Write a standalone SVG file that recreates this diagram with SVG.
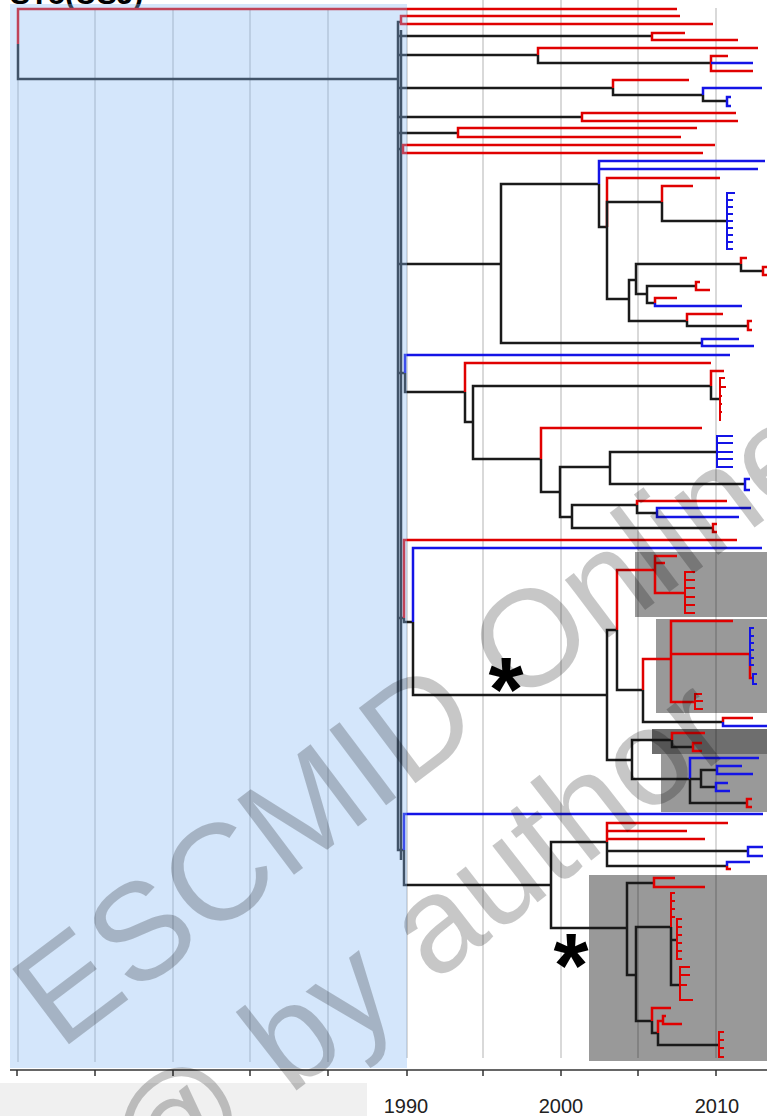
<svg xmlns="http://www.w3.org/2000/svg" width="767" height="1116" viewBox="0 0 767 1116">
<style>
.r{stroke:#e00000}.b{stroke:#1414e6}.k{stroke:#1a1a1a}
#connectors path{fill:none;stroke-width:2.5}
.grid{stroke:#000;stroke-opacity:.3;stroke-width:1}
.box{fill:#999}
.wm{font-family:"Liberation Sans",Arial,sans-serif;font-size:137px;fill:#000;fill-opacity:.22}
.yr{font-family:"Liberation Sans",Arial,sans-serif;font-size:20px;fill:#222;text-anchor:middle}
.star{font-family:"Liberation Sans",Arial,sans-serif;font-weight:bold;font-size:90px;fill:#000;text-anchor:middle}
</style>
<rect width="767" height="1116" fill="#fff"/>
<text x="10" y="4" font-family="Liberation Sans, Arial, sans-serif" font-weight="bold" font-size="30" fill="#000">ST5(USJ)</text>
<g id="boxes">
<rect class="box" x="635" y="552" width="132" height="65"/>
<rect class="box" x="656" y="619" width="111" height="94"/>
<rect x="652" y="729" width="115" height="25" fill="#6e6e6e"/>
<rect class="box" x="661" y="754" width="106" height="58"/>
<rect class="box" x="589" y="875" width="178" height="186"/>
</g>
<g id="grid">
<path class="grid" d="M18,10V1062M95,10V1062M173,10V1062M250,10V1062M328,10V1062M407,10V1058M483,0V1058M561,0V1058M638,0V1058M716,8V1058"/>
</g>
<g id="connectors">
<g id="root"><path class="r" d="M18,44V9H677"/><path class="k" d="M18,44V79H398"/></g>
<g id="backbone"><path class="k" d="M398,79V22H401M398,79V36H652M398,79V55H538M398,79V88H613M398,79V117H582M398,79V133H458M398,79V149H403M398,79V264H501M398,79V373H405M398,79V618H404M398,79V850H404M401,30V860"/></g>
<g id="n401"><path class="r" d="M401,22V16H680M401,22V24H713"/></g>
<g id="n652"><path class="r" d="M652,36V33H685M652,36V40H738"/></g>
<g id="n538"><path class="r" d="M538,55V48H758"/><path class="k" d="M538,55V63H711"/></g>
<g id="n711"><path class="r" d="M711,63V56H728M711,63V71H753"/><path class="b" d="M711,63H753"/></g>
<g id="n613"><path class="r" d="M613,88V80H689"/><path class="k" d="M613,88V95H703"/></g>
<g id="n703"><path class="b" d="M703,95V88H762"/><path class="k" d="M703,95V101H727"/></g>
<g id="n727a"><path class="b" d="M727,101V97H731M727,101V106H731"/></g>
<g id="n582"><path class="r" d="M582,117V113H736M582,117V121H738"/></g>
<g id="n458"><path class="r" d="M458,133V128H697M458,133V137H681"/></g>
<g id="n403"><path class="r" d="M403,149V145H715M403,149V153H703"/></g>
<g id="n501"><path class="k" d="M501,264V184H599M501,264V343H702"/></g>
<g id="n599"><path class="b" d="M599,184V161H765M599,184V169H758"/><path class="k" d="M599,184V227H607"/></g>
<g id="n607"><path class="r" d="M607,227V178H720"/><path class="k" d="M607,227V202H662M607,227V299H629"/></g>
<g id="n662"><path class="r" d="M662,202V186H693"/><path class="k" d="M662,202V221H727"/></g>
<g id="n727c"><path class="b" style="stroke-width:2" d="M727,221V193H735M727,221V200H733M727,221V207H733M727,221V214H733M727,221H733M727,221V228H733M727,221V235H733M727,221V242H733M727,221V249H733"/></g>
<g id="n629"><path class="k" d="M629,299V280H636M629,299V321H687"/></g>
<g id="n636"><path class="k" d="M636,280V264H741M636,280V294H647"/></g>
<g id="n741"><path class="r" d="M741,264V258H747"/><path class="k" d="M741,264V271H763"/></g>
<g id="n763"><path class="r" d="M763,271V267H767M763,271V275H767"/></g>
<g id="n647"><path class="k" d="M647,294V286H696M647,294V303H655"/></g>
<g id="n696"><path class="r" d="M696,286V282H700M696,286V290H710"/></g>
<g id="n655"><path class="r" d="M655,303V298H677"/><path class="b" d="M655,303V306H742"/></g>
<g id="n687"><path class="r" d="M687,321V314H723"/><path class="k" d="M687,321V326H748"/></g>
<g id="n748a"><path class="r" d="M748,326V321H752M748,326V330H752"/></g>
<g id="n702"><path class="b" d="M702,343V339H739M702,343V346H754"/></g>
<g id="n405"><path class="b" d="M405,373V355H730"/><path class="k" d="M405,373V392H465"/></g>
<g id="n465"><path class="r" d="M465,392V363H711"/><path class="k" d="M465,392V422H473"/></g>
<g id="n473"><path class="k" d="M473,422V386H711M473,422V459H541"/></g>
<g id="n711b"><path class="r" d="M711,386V371H724"/><path class="k" d="M711,386V399H720"/></g>
<g id="n720"><path class="r" style="stroke-width:2" d="M720,399V378H725M720,399V387H726M720,399V396H722M720,399V404H722M720,399V412H722M720,399V420H721"/></g>
<g id="n541"><path class="r" d="M541,459V428H702"/><path class="k" d="M541,459V492H560"/></g>
<g id="n560"><path class="k" d="M560,492V467H610M560,492V517H572"/></g>
<g id="n610"><path class="k" d="M610,467V452H717M610,467V484H745"/></g>
<g id="n717"><path class="b" style="stroke-width:2" d="M717,452V436H733M717,452V443H733M717,452H733M717,452V459H733M717,452V467H733"/></g>
<g id="n745"><path class="b" d="M745,484V479H750M745,484V490H750"/></g>
<g id="n572"><path class="k" d="M572,517V505H637M572,517V528H713"/></g>
<g id="n637"><path class="r" d="M637,505V501H727"/><path class="k" d="M637,505V513H657"/></g>
<g id="n657"><path class="b" d="M657,513V508H751M657,513V517H739"/></g>
<g id="n713"><path class="r" d="M713,528V524H717M713,528V532H717"/></g>
<g id="n404"><path class="r" d="M404,618V540H737"/><path class="k" d="M404,618V622H413"/></g>
<g id="n413"><path class="b" d="M413,622V548H762"/><path class="k" d="M413,622V695H607"/></g>
<g id="n607b"><path class="k" d="M607,695V630H617M607,695V760H632"/></g>
<g id="n617"><path class="r" d="M617,630V570H655"/><path class="k" d="M617,630V690H643"/></g>
<g id="n655b"><path class="r" d="M655,570V556H677M655,570V563H665M655,570V593H685"/></g>
<g id="n685"><path class="r" style="stroke-width:2" d="M685,593V572H695M685,593V580H695M685,593V588H695M685,593V597H695M685,593V605H695M685,593V613H695"/></g>
<g id="n643"><path class="r" d="M643,690V659H671"/><path class="k" d="M643,690V722H723"/></g>
<g id="n671"><path class="r" d="M671,659V621H733M671,659V654H750M671,659V702H695"/></g>
<g id="n750"><path class="r" d="M750,654V678H753"/><path class="b" style="stroke-width:2" d="M750,654V628H754M750,654V636H754M750,654V643H754M750,654V650H754M750,654V658H754M750,654V665H754M753,678V674H757M753,678V684H757"/></g>
<g id="n695"><path class="r" style="stroke-width:2" d="M695,702V694H702M695,702V701H703M695,702V709H703"/></g>
<g id="n723"><path class="r" d="M723,722V718H753"/><path class="b" d="M723,722V726H767"/></g>
<g id="n632"><path class="k" d="M632,760V740H672M632,760V779H690"/></g>
<g id="n672"><path class="r" d="M672,740V733H705"/><path class="k" d="M672,740V747H693"/></g>
<g id="n693"><path class="r" d="M693,747V743H702M693,747V751H702"/></g>
<g id="n690"><path class="b" d="M690,779V758H759"/><path class="k" d="M690,779H701M690,779V803H747"/></g>
<g id="n701"><path class="k" d="M701,779V770H717M701,779V787H716"/></g>
<g id="n717b"><path class="b" d="M717,770V766H742M717,770V774H753"/></g>
<g id="n716"><path class="b" d="M716,787V783H728M716,787V791H730"/></g>
<g id="n747"><path class="r" d="M747,803V799H752M747,803V807H752"/></g>
<g id="n404b"><path class="b" d="M404,850V814H763"/><path class="k" d="M404,850V885H551"/></g>
<g id="n551"><path class="k" d="M551,885V842H607M551,885V928H627"/></g>
<g id="n607c"><path class="r" d="M607,842V823H728M607,842V831H687M607,842V839H705"/><path class="k" d="M607,842V851H748M607,842V866H727"/></g>
<g id="n748b"><path class="b" d="M748,851V847H763M748,851V856H763"/></g>
<g id="n727d"><path class="b" d="M727,866V862H750"/><path class="r" d="M727,866V869H731"/></g>
<g id="n627"><path class="k" d="M627,928V883H654M627,928V975H636"/></g>
<g id="n654"><path class="r" d="M654,883V878H675M654,883V887H705"/></g>
<g id="n636b"><path class="k" d="M636,975V927H671M636,975V1021H652"/></g>
<g id="n671b"><path class="r" style="stroke-width:2" d="M671,927V893H675M671,927V901H675M671,927V909H675M671,927V917H675"/><path class="k" d="M671,927V940H677M671,927V985H680"/></g>
<g id="n677"><path class="r" style="stroke-width:2" d="M677,940V919H682M677,940V927H682M677,940V935H682M677,940V943H682M677,940V951H682M677,940V959H682"/></g>
<g id="n680"><path class="r" style="stroke-width:2" d="M680,985V967H690M680,985V975H690M680,985H687M680,985V1000H693"/></g>
<g id="n652b"><path class="r" d="M652,1021V1008H671"/><path class="k" d="M652,1021V1033H658"/></g>
<g id="n658"><path class="r" d="M658,1033V1021H663"/><path class="k" d="M658,1033V1045H719"/></g>
<g id="n663"><path class="r" d="M663,1021V1016H666M663,1021V1024H682"/></g>
<g id="n719"><path class="r" style="stroke-width:2" d="M719,1045V1032H724M719,1045V1040H724M719,1045V1048H724M719,1045V1057H724"/></g>
</g>
<rect id="shade" x="10" y="4" width="397" height="1064" fill="rgb(135,185,244)" fill-opacity="0.36"/>
<g id="axis">
<path d="M10,1070H767" stroke="#333" stroke-width="1.5"/>
<path d="M17,1070V1076M95,1070V1076M173,1070V1076M250,1070V1076M328,1070V1076M407,1070V1076M483,1070V1076M561,1070V1076M638,1070V1076M716,1070V1076" stroke="#333" stroke-width="1.5"/>
<rect x="0" y="1083" width="367" height="33" fill="#f0f0f0"/>
<text class="yr" x="406" y="1113">1990</text>
<text class="yr" x="561" y="1113">2000</text>
<text class="yr" x="717" y="1113">2010</text>
</g>
<text class="star" x="506" y="721">*</text>
<text class="star" x="571" y="997">*</text>
<g id="watermark">
<text class="wm" transform="translate(60,1051) rotate(-37)">ESCMID Online</text>
<text class="wm" transform="translate(150,1205) rotate(-38)">@ by author</text>
</g>
</svg>
